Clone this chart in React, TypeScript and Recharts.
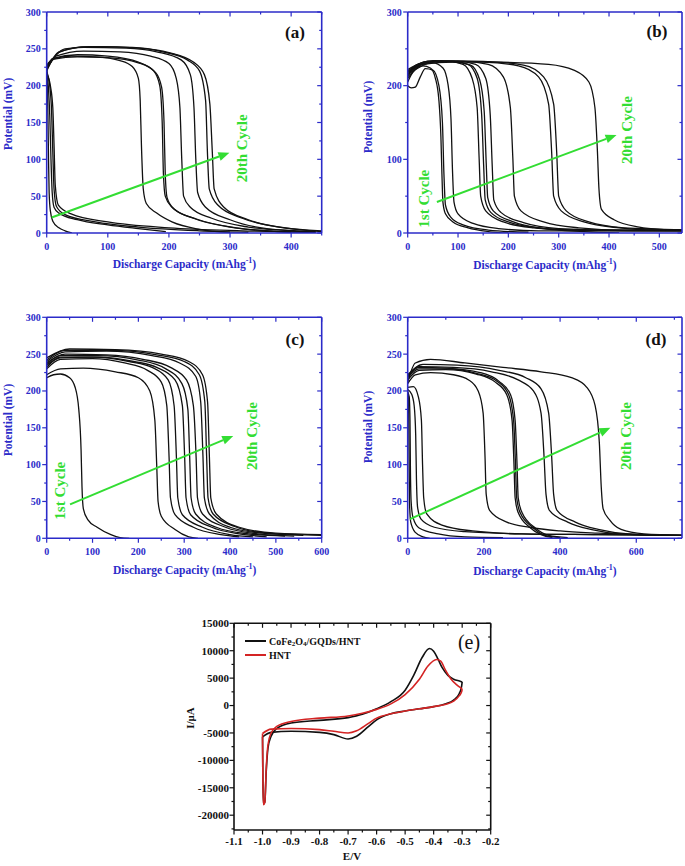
import React from "react";
import { LineChart, Line, XAxis, YAxis, ReferenceLine } from "recharts";

type Pt = [number, number];

const BLUE = "#2b2bc9";
const GREEN = "#33dd33";
const RED = "#d42424";
const FONT = "'Liberation Serif', 'Times New Roman', serif";

// ---------- (a) ----------
const aTicksX = [0, 100, 200, 300, 400];
const aTicksY = [0, 50, 100, 150, 200, 250, 300];
const aCurves: Pt[][] = [
  [[0, 224], [1, 205], [2, 160], [3, 100], [4, 55], [6, 30], [10, 16], [20, 7], [30, 3], [41, 0]],
  [[0, 221], [3, 195], [5, 160], [7, 100], [9, 55], [12, 35], [20, 27], [50, 18], [100, 11], [150, 6], [195, 2]],
  [[0, 219], [5, 200], [8, 165], [10, 110], [12, 60], [16, 36], [30, 25], [80, 15], [150, 8], [250, 3], [330, 1]],
  [[0, 216], [6, 200], [10, 170], [12, 120], [14, 65], [19, 38], [40, 26], [100, 15], [200, 7], [320, 3], [440, 1]],
  [[0, 228], [10, 236], [40, 240], [80, 239], [120, 234], [140, 226], [150, 210], [153, 180], [155, 120], [158, 60], [163, 40], [180, 27], [205, 15], [250, 5], [300, 1]],
  [[0, 225], [10, 237], [50, 242], [100, 240], [150, 232], [175, 220], [185, 200], [189, 150], [191, 80], [194, 50], [205, 35], [240, 20], [300, 8], [360, 3], [400, 1]],
  [[0, 223], [12, 236], [50, 239], [100, 238], [150, 231], [178, 218], [188, 198], [192, 150], [194, 80], [197, 48], [208, 33], [245, 19], [310, 7], [380, 2], [430, 1]],
  [[0, 222], [15, 240], [60, 247], [120, 246], [170, 240], [200, 230], [212, 210], [218, 170], [221, 100], [224, 50], [235, 35], [270, 20], [330, 8], [400, 3], [440, 1]],
  [[0, 222], [20, 245], [60, 252], [130, 251], [180, 246], [220, 235], [235, 215], [241, 170], [244, 100], [247, 55], [260, 35], [300, 18], [360, 6], [440, 2]],
  [[0, 220], [20, 246], [70, 253], [140, 252], [190, 246], [230, 235], [250, 220], [260, 180], [263, 110], [266, 60], [280, 38], [320, 20], [380, 8], [450, 3]],
  [[0, 224], [30, 250], [80, 253], [150, 251], [200, 245], [240, 232], [258, 215], [267, 175], [271, 110], [274, 60], [290, 35], [330, 18], [400, 6], [450, 2]],
];
const aArrow: Pt[] = [[8, 21], [299, 109]];

// ---------- (b) ----------
const bTicksX = [0, 100, 200, 300, 400, 500];
const bTicksY = [0, 100, 200, 300];
const bCurves: Pt[][] = [
  [[0, 205], [10, 218], [30, 227], [45, 224], [55, 210], [62, 180], [66, 130], [68, 80], [70, 42], [75, 26], [90, 15], [120, 7], [160, 2], [200, 0]],
  [[0, 200], [7, 197], [15, 198], [25, 212], [35, 223], [50, 221], [62, 200], [69, 150], [72, 80], [75, 38], [85, 22], [110, 11], [160, 4], [240, 1]],
  [[0, 212], [20, 229], [50, 231], [70, 224], [80, 202], [86, 155], [89, 85], [92, 42], [100, 26], [130, 13], [180, 6], [260, 3], [400, 3], [550, 3]],
  [[0, 215], [30, 231], [80, 233], [110, 229], [128, 210], [138, 170], [142, 100], [145, 50], [155, 30], [190, 15], [250, 7], [330, 4], [450, 3], [550, 3]],
  [[0, 218], [30, 231], [90, 233], [120, 229], [138, 210], [147, 160], [151, 90], [154, 45], [165, 28], [200, 15], [260, 7], [340, 4], [550, 3]],
  [[0, 210], [30, 229], [90, 232], [125, 228], [143, 208], [152, 165], [156, 95], [159, 48], [170, 30], [210, 15], [270, 6], [350, 2], [420, 0]],
  [[0, 220], [40, 233], [100, 233], [135, 229], [155, 210], [164, 160], [168, 90], [171, 45], [185, 28], [230, 14], [300, 6], [400, 4], [550, 4]],
  [[0, 215], [40, 233], [110, 233], [160, 229], [190, 212], [204, 170], [209, 100], [212, 50], [225, 30], [270, 15], [340, 7], [430, 4], [550, 4]],
  [[0, 218], [50, 233], [150, 232], [220, 227], [260, 212], [280, 175], [286, 110], [290, 50], [305, 30], [350, 15], [420, 7], [500, 4], [550, 4]],
  [[0, 222], [50, 234], [150, 233], [230, 228], [270, 212], [290, 175], [296, 110], [300, 50], [315, 30], [360, 15], [430, 7], [510, 5], [550, 4]],
  [[0, 215], [60, 233], [180, 232], [280, 229], [330, 221], [360, 205], [372, 170], [377, 110], [380, 60], [385, 32], [410, 18], [460, 8], [500, 5], [550, 4]],
];
const bArrow: Pt[] = [[58, 42], [415, 133]];

// ---------- (c) ----------
const cTicksX = [0, 100, 200, 300, 400, 500, 600];
const cTicksY = [0, 50, 100, 150, 200, 250, 300];
const cCurves: Pt[][] = [
  [[0, 218], [15, 222], [30, 223], [50, 218], [62, 205], [70, 175], [75, 120], [77, 70], [80, 40], [90, 25], [110, 15], [140, 5], [160, 1], [180, 0]],
  [[0, 222], [30, 230], [80, 231], [150, 226], [200, 218], [225, 200], [236, 160], [240, 100], [243, 50], [250, 30], [280, 12], [310, 2], [330, 0]],
  [[0, 230], [30, 243], [100, 244], [170, 238], [220, 228], [250, 212], [262, 180], [267, 110], [270, 55], [280, 32], [320, 15], [380, 5], [420, 2]],
  [[0, 235], [30, 245], [100, 246], [180, 240], [230, 232], [265, 215], [278, 180], [283, 110], [286, 55], [296, 32], [340, 15], [400, 5], [450, 2]],
  [[0, 232], [30, 246], [110, 246], [190, 240], [240, 232], [280, 215], [296, 180], [301, 110], [304, 55], [314, 32], [360, 15], [420, 6], [480, 2]],
  [[0, 236], [30, 248], [110, 248], [200, 242], [260, 230], [295, 210], [308, 175], [312, 110], [315, 55], [325, 33], [370, 15], [440, 6], [520, 3]],
  [[0, 238], [40, 250], [130, 249], [210, 243], [270, 232], [305, 215], [320, 180], [326, 110], [329, 55], [340, 33], [390, 15], [460, 6], [540, 3]],
  [[0, 240], [40, 253], [130, 254], [230, 248], [290, 238], [325, 220], [336, 185], [341, 110], [344, 55], [355, 33], [400, 15], [470, 7], [560, 4]],
  [[0, 242], [40, 255], [140, 255], [240, 249], [300, 240], [333, 222], [345, 185], [349, 110], [352, 55], [363, 33], [410, 16], [480, 7], [600, 4]],
  [[0, 245], [50, 257], [150, 256], [250, 250], [310, 240], [340, 222], [351, 185], [355, 110], [358, 55], [370, 33], [420, 15], [500, 7], [600, 5]],
];
const cArrow: Pt[] = [[51, 46], [407, 139]];

// ---------- (d) ----------
const dTicksX = [0, 200, 400, 600];
const dTicksY = [0, 50, 100, 150, 200, 250, 300];
const dCurves: Pt[][] = [
  [[0, 200], [2, 190], [3, 150], [4, 90], [5, 45], [8, 22], [20, 8], [40, 2], [58, 0]],
  [[0, 198], [4, 192], [6, 160], [7, 100], [9, 50], [14, 28], [30, 14], [80, 6], [150, 2], [250, 1]],
  [[0, 202], [10, 196], [17, 180], [21, 140], [23, 80], [26, 42], [35, 26], [70, 15], [150, 9], [300, 6], [500, 5], [720, 4]],
  [[0, 205], [15, 206], [28, 192], [36, 160], [39, 100], [42, 55], [50, 33], [90, 18], [170, 10], [300, 6], [500, 5], [720, 4]],
  [[0, 210], [20, 222], [60, 225], [120, 222], [160, 215], [185, 200], [198, 170], [203, 110], [206, 60], [215, 38], [260, 22], [320, 15], [400, 10], [500, 7], [600, 5], [720, 4]],
  [[0, 215], [30, 228], [100, 229], [180, 223], [230, 212], [260, 195], [274, 160], [279, 100], [282, 55], [290, 35], [320, 15], [350, 5], [380, 1]],
  [[0, 218], [30, 230], [100, 230], [180, 224], [235, 213], [265, 195], [278, 160], [283, 100], [286, 55], [295, 35], [330, 14], [360, 4], [400, 1]],
  [[0, 220], [30, 232], [100, 231], [190, 225], [240, 213], [270, 195], [282, 160], [287, 100], [290, 55], [300, 35], [335, 14], [370, 4], [420, 1]],
  [[0, 220], [30, 233], [120, 232], [220, 226], [290, 215], [330, 200], [350, 170], [358, 110], [363, 60], [372, 38], [420, 22], [480, 12], [560, 6], [720, 4]],
  [[0, 222], [40, 236], [130, 235], [240, 228], [310, 218], [350, 203], [370, 170], [378, 110], [383, 60], [392, 38], [440, 22], [500, 12], [580, 6], [720, 4]],
  [[0, 212], [20, 238], [60, 243], [150, 238], [250, 232], [350, 226], [430, 218], [470, 205], [492, 180], [503, 130], [508, 70], [513, 40], [530, 25], [560, 12], [620, 6], [720, 4]],
];
const dArrow: Pt[] = [[6, 26], [532, 150]];

// ---------- (e) CV ----------
const eTicksX = [-1.1, -1.0, -0.9, -0.8, -0.7, -0.6, -0.5, -0.4, -0.3, -0.2];
const eTicksY = [-20000, -15000, -10000, -5000, 0, 5000, 10000, 15000];
const cvBlackUp: Pt[] = [
  [-1.0, -5700], [-0.999, -12000], [-0.997, -18000], [-0.992, -17600], [-0.987, -12000], [-0.981, -7800], [-0.97, -5600],
  [-0.95, -4200], [-0.9, -3200], [-0.8, -2700], [-0.7, -2200], [-0.65, -1600], [-0.6, -600], [-0.55, 700],
  [-0.5, 2800], [-0.47, 5500], [-0.44, 8800], [-0.415, 10400], [-0.4, 9900], [-0.385, 8500], [-0.37, 6900],
  [-0.35, 5500], [-0.33, 4800], [-0.305, 4400], [-0.3, 4300],
];
const cvBlackDown: Pt[] = [
  [-1.0, -5700], [-0.97, -4900], [-0.9, -4700], [-0.8, -4900], [-0.75, -5300], [-0.7, -6100], [-0.67, -5600],
  [-0.63, -3900], [-0.6, -2600], [-0.55, -1500], [-0.5, -1000], [-0.45, -600], [-0.4, -200], [-0.36, 300],
  [-0.33, 1000], [-0.31, 2200], [-0.302, 3500], [-0.3, 4300],
];
const cvRedUp: Pt[] = [
  [-1.0, -5100], [-0.999, -12000], [-0.997, -18100], [-0.992, -17700], [-0.987, -11500], [-0.981, -7200], [-0.97, -5000],
  [-0.95, -3800], [-0.9, -2900], [-0.8, -2300], [-0.7, -1900], [-0.65, -1400], [-0.6, -700], [-0.55, 300],
  [-0.5, 2000], [-0.45, 4800], [-0.42, 7200], [-0.39, 8400], [-0.375, 8100], [-0.36, 6600], [-0.34, 4900],
  [-0.32, 3800], [-0.305, 3200], [-0.3, 3000],
];
const cvRedDown: Pt[] = [
  [-1.0, -5100], [-0.97, -4300], [-0.9, -4200], [-0.8, -4400], [-0.75, -4700], [-0.7, -5000], [-0.67, -4600],
  [-0.63, -3300], [-0.6, -2300], [-0.55, -1500], [-0.5, -1000], [-0.45, -600], [-0.4, -200], [-0.36, 200],
  [-0.33, 800], [-0.31, 1800], [-0.302, 2500], [-0.3, 3000],
];

const round6 = (v: number) => Math.round(v * 1e6) / 1e6;
function withMinor(majors: number[], lo: number, hi: number) {
  const step = majors[1] - majors[0];
  const out: number[] = [];
  for (let v = majors[0] - step / 2; v <= hi + 1e-9; v += step / 2) {
    if (v >= lo - 1e-9) out.push(round6(v));
  }
  return out;
}

type Side = "bottom" | "top" | "left" | "right";
function makeTick(side: Side, majors: number[], color: string, fontSize: number, fmt: (v: number) => string, gap: number) {
  return (props: any) => {
    const { x, y, payload } = props;
    const v = Number(payload.value);
    const major = majors.some((m) => Math.abs(m - v) < 1e-6);
    const len = major ? 4.5 : 2.5;
    const ts = { fontFamily: FONT, fontWeight: 700, fontSize, fill: color };
    if (side === "bottom")
      return (
        <g>
          <line x1={x} y1={y} x2={x} y2={y + len} stroke={color} strokeWidth={1.2} />
          {major && <text x={x} y={y + gap} textAnchor="middle" style={ts}>{fmt(v)}</text>}
        </g>
      );
    if (side === "top") return <line x1={x} y1={y} x2={x} y2={y + len} stroke={color} strokeWidth={1.2} />;
    if (side === "left")
      return (
        <g>
          <line x1={x} y1={y} x2={x - len} y2={y} stroke={color} strokeWidth={1.2} />
          {major && <text x={x - gap} y={y} dy="0.35em" textAnchor="end" style={ts}>{fmt(v)}</text>}
        </g>
      );
    return <line x1={x} y1={y} x2={x - len} y2={y} stroke={color} strokeWidth={1.2} />;
  };
}

const arrowShape = (p: any) => {
  const { x1, y1, x2, y2 } = p;
  const a = Math.atan2(y2 - y1, x2 - x1);
  const c = Math.cos(a), s = Math.sin(a);
  const bx = x2 - 11 * c, by = y2 - 11 * s;
  const pts = `${x2},${y2} ${bx - 4.5 * s},${by + 4.5 * c} ${bx + 4.5 * s},${by - 4.5 * c}`;
  return (
    <g>
      <line x1={x1} y1={y1} x2={bx} y2={by} stroke={GREEN} strokeWidth={2} />
      <polygon points={pts} fill={GREEN} />
    </g>
  );
};

interface PanelCfg {
  box: { L: number; T: number; W: number; H: number };
  plot: { x0: number; y0: number; x1: number; y1: number };
  xDomain: [number, number];
  yDomain: [number, number];
  xMajor: number[];
  yMajor: number[];
  color: string;
  fontSize: number;
  xFmt: (v: number) => string;
  yFmt: (v: number) => string;
  xGap: number;
  yGap: number;
  lines: { data: Pt[]; stroke: string; width: number }[];
  arrow?: Pt[];
}

function Panel({ cfg }: { cfg: PanelCfg }) {
  const { box, plot } = cfg;
  // every axis is 1px thick, so shave that off the margins
  const margin = {
    top: plot.y0 - box.T - 1,
    left: plot.x0 - box.L - 1,
    right: box.L + box.W - plot.x1 - 1,
    bottom: box.T + box.H - plot.y1 - 1,
  };
  const axisLine = { stroke: cfg.color, strokeWidth: 1.6 };
  const xt = withMinor(cfg.xMajor, cfg.xDomain[0], cfg.xDomain[1]);
  const yt = withMinor(cfg.yMajor, cfg.yDomain[0], cfg.yDomain[1]);
  const common = { type: "number" as const, interval: 0, tickSize: 0, tickMargin: 0, tickLine: false, axisLine, allowDataOverflow: true };
  return (
    <div style={{ position: "absolute", left: box.L, top: box.T }}>
      <LineChart width={box.W} height={box.H} margin={margin}>
        <XAxis xAxisId="b" dataKey="x" domain={cfg.xDomain} ticks={xt} height={1} {...common}
          tick={makeTick("bottom", cfg.xMajor, cfg.color, cfg.fontSize, cfg.xFmt, cfg.xGap)} />
        <XAxis xAxisId="t" orientation="top" dataKey="x" domain={cfg.xDomain} ticks={xt} height={1} {...common}
          tick={makeTick("top", cfg.xMajor, cfg.color, cfg.fontSize, cfg.xFmt, 0)} />
        <YAxis yAxisId="l" domain={cfg.yDomain} ticks={yt} width={1} {...common}
          tick={makeTick("left", cfg.yMajor, cfg.color, cfg.fontSize, cfg.yFmt, cfg.yGap)} />
        <YAxis yAxisId="r" orientation="right" domain={cfg.yDomain} ticks={yt} width={1} {...common}
          tick={makeTick("right", cfg.yMajor, cfg.color, cfg.fontSize, cfg.yFmt, 0)} />
        {cfg.lines.map((l, i) => (
          <Line key={i} xAxisId="b" yAxisId="l" data={l.data.map(([x, y]) => ({ x, y }))} dataKey="y" name={`s${i}`}
            type="monotone" dot={false} activeDot={false} stroke={l.stroke} strokeWidth={l.width} isAnimationActive={false} />
        ))}
        {cfg.arrow && (
          <ReferenceLine xAxisId="b" yAxisId="l" ifOverflow="visible" shape={arrowShape}
            segment={[{ x: cfg.arrow[0][0], y: cfg.arrow[0][1] }, { x: cfg.arrow[1][0], y: cfg.arrow[1][1] }]} />
        )}
      </LineChart>
    </div>
  );
}

const num = (v: number) => String(v);
const blackLines = (cs: Pt[][]) => cs.map((d) => ({ data: d, stroke: "#111", width: 1.3 }));

const panels: PanelCfg[] = [
  {
    box: { L: 0, T: 0, W: 340, H: 280 }, plot: { x0: 46.7, y0: 12, x1: 321.7, y1: 233 },
    xDomain: [0, 450], yDomain: [0, 300], xMajor: aTicksX, yMajor: aTicksY, color: BLUE, fontSize: 10,
    xFmt: num, yFmt: num, xGap: 17, yGap: 6, lines: blackLines(aCurves), arrow: aArrow,
  },
  {
    box: { L: 340, T: 0, W: 345, H: 280 }, plot: { x0: 407.7, y0: 12, x1: 682, y1: 233 },
    xDomain: [0, 545], yDomain: [0, 300], xMajor: bTicksX, yMajor: bTicksY, color: BLUE, fontSize: 10,
    xFmt: num, yFmt: num, xGap: 17, yGap: 6, lines: blackLines(bCurves), arrow: bArrow,
  },
  {
    box: { L: 0, T: 290, W: 340, H: 290 }, plot: { x0: 46.7, y0: 317.3, x1: 321.7, y1: 538.3 },
    xDomain: [0, 600], yDomain: [0, 300], xMajor: cTicksX, yMajor: cTicksY, color: BLUE, fontSize: 10,
    xFmt: num, yFmt: num, xGap: 17, yGap: 6, lines: blackLines(cCurves), arrow: cArrow,
  },
  {
    box: { L: 340, T: 290, W: 345, H: 290 }, plot: { x0: 407.7, y0: 317.3, x1: 682, y1: 538.3 },
    xDomain: [0, 720], yDomain: [0, 300], xMajor: dTicksX, yMajor: dTicksY, color: BLUE, fontSize: 10,
    xFmt: num, yFmt: num, xGap: 17, yGap: 6, lines: blackLines(dCurves), arrow: dArrow,
  },
  {
    box: { L: 180, T: 610, W: 330, H: 256 }, plot: { x0: 234, y0: 623.3, x1: 490.7, y1: 830 },
    xDomain: [-1.1, -0.2], yDomain: [-22700, 15000], xMajor: eTicksX, yMajor: eTicksY, color: "#111", fontSize: 11,
    xFmt: (v) => v.toFixed(1), yFmt: num, xGap: 15, yGap: 5,
    lines: [
      { data: cvBlackUp, stroke: "#111", width: 1.6 },
      { data: cvBlackDown, stroke: "#111", width: 1.6 },
      { data: cvRedUp, stroke: RED, width: 1.6 },
      { data: cvRedDown, stroke: RED, width: 1.6 },
    ],
  },
];

const tb = { fontFamily: FONT, fontWeight: 700 } as const;

function XTitle({ x, y }: { x: number; y: number }) {
  return (
    <text x={x} y={y} textAnchor="middle" dominantBaseline="central" style={{ ...tb, fontSize: 11.5, fill: BLUE }}>
      Discharge Capacity (mAhg<tspan dy={-4} fontSize={8}>-1</tspan><tspan dy={4}>)</tspan>
    </text>
  );
}
function VText({ x, y, size, color, children }: { x: number; y: number; size: number; color: string; children: React.ReactNode }) {
  return (
    <text transform={`translate(${x},${y}) rotate(-90)`} textAnchor="middle" dominantBaseline="central" style={{ ...tb, fontSize: size, fill: color }}>
      {children}
    </text>
  );
}
function Tag({ x, y, t, size = 17, bold = true }: { x: number; y: number; t: string; size?: number; bold?: boolean }) {
  return (
    <text x={x} y={y} textAnchor="middle" dominantBaseline="central" style={{ fontFamily: FONT, fontWeight: bold ? 700 : 400, fontSize: size, fill: "#111" }}>
      {t}
    </text>
  );
}

export default function App() {
  return (
    <div style={{ position: "absolute", left: 0, top: 0, width: 685, height: 866, background: "#fff" }}>
      {panels.map((p, i) => <Panel key={i} cfg={p} />)}
      <svg width={685} height={866} style={{ position: "absolute", left: 0, top: 0, pointerEvents: "none" }}>
        <VText x={8.3} y={114} size={11.5} color={BLUE}>Potential (mV)</VText>
        <VText x={368.3} y={117} size={11.5} color={BLUE}>Potential (mV)</VText>
        <VText x={8.3} y={420} size={11.5} color={BLUE}>Potential (mV)</VText>
        <VText x={368.3} y={427} size={11.5} color={BLUE}>Potential (mV)</VText>
        <XTitle x={184.5} y={264} />
        <XTitle x={545} y={265} />
        <XTitle x={184.7} y={570} />
        <XTitle x={545} y={570.7} />
        <Tag x={295} y={32} t="(a)" />
        <Tag x={657} y={31.7} t="(b)" />
        <Tag x={295} y={339.3} t="(c)" />
        <Tag x={656} y={339.3} t="(d)" />
        <Tag x={469} y={641.7} t="(e)" size={20} bold={false} />
        <VText x={241.7} y={148.3} size={15} color={GREEN}>20th Cycle</VText>
        <VText x={424} y={198.7} size={15} color={GREEN}>1st Cycle</VText>
        <VText x={626.7} y={130} size={15} color={GREEN}>20th Cycle</VText>
        <VText x={60} y={490.7} size={15} color={GREEN}>1st Cycle</VText>
        <VText x={251.7} y={436} size={15} color={GREEN}>20th Cycle</VText>
        <VText x={626} y={436} size={15} color={GREEN}>20th Cycle</VText>
        {/* CV legend */}
        <line x1={245} y1={641} x2={266} y2={641} stroke="#111" strokeWidth={2} />
        <text x={269} y={641} dominantBaseline="central" style={{ ...tb, fontSize: 10, fill: "#111" }}>
          CoFe<tspan dy={3} fontSize={7}>2</tspan><tspan dy={-3}>O</tspan><tspan dy={3} fontSize={7}>4</tspan><tspan dy={-3}>/GQDs/HNT</tspan>
        </text>
        <line x1={245} y1={655} x2={266} y2={655} stroke={RED} strokeWidth={2} />
        <text x={269} y={655} dominantBaseline="central" style={{ ...tb, fontSize: 10, fill: "#111" }}>HNT</text>
        <VText x={190} y={718} size={11} color="#111">I/μA</VText>
        <text x={352} y={856} textAnchor="middle" dominantBaseline="central" style={{ ...tb, fontSize: 11, fill: "#111" }}>E/V</text>
      </svg>
    </div>
  );
}
